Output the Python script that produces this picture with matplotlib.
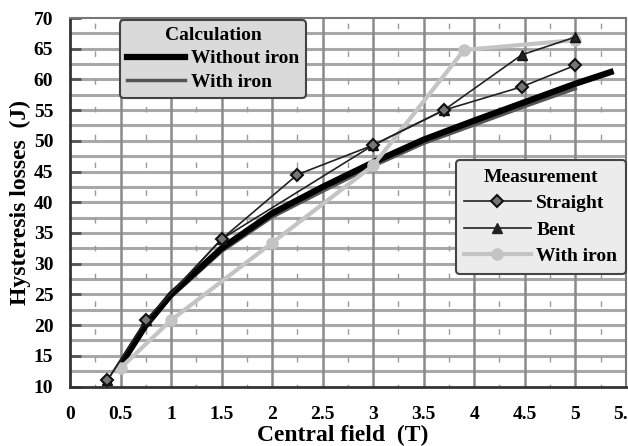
import matplotlib
matplotlib.use('Agg')
import numpy as np
import matplotlib.pyplot as plt
from matplotlib.lines import Line2D

# calculation curves
calc_x = [0.5, 0.75, 1.0, 1.5, 2.0, 2.5, 3.0, 3.5, 4.0, 4.5, 5.0, 5.35]
calc_no_iron = [13.5, 20.0, 25.0, 32.5, 38.2, 42.5, 46.5, 50.2, 53.3, 56.3, 59.3, 61.2]
calc_iron_x = [0.5, 0.75, 1.0, 1.5, 2.0, 2.5, 3.0, 3.5, 4.0, 4.5, 5.0]
calc_iron = [13.3, 19.6, 24.6, 32.0, 37.6, 41.8, 45.9, 49.6, 52.6, 55.6, 58.5]

# measurements
straight_x = [0.37, 0.75, 1.5, 2.25, 3.0, 3.7, 4.47, 5.0]
straight_y = [11.0, 20.8, 34.0, 44.5, 49.3, 55.0, 58.8, 62.3]
bent_x = [0.37, 0.75, 1.5, 3.0, 3.7, 4.47, 5.0]
bent_y = [11.0, 20.8, 34.0, 49.3, 55.0, 64.0, 66.9]
iron_x = [0.5, 1.0, 2.0, 3.0, 3.9, 5.0]
iron_y = [13.0, 20.8, 33.4, 46.0, 64.8, 66.4]

x_ticks = [0, 0.5, 1, 1.5, 2, 2.5, 3, 3.5, 4, 4.5, 5, 5.5]
x_labels = ['0', '0.5', '1', '1.5', '2', '2.5', '3', '3.5', '4', '4.5', '5', '5.5']
y_ticks = [10, 15, 20, 25, 30, 35, 40, 45, 50, 55, 60, 65, 70]

plt.rcParams['font.family'] = ['Liberation Serif', 'DejaVu Serif']
plt.rcParams['font.weight'] = 'bold'

fig = plt.figure(figsize=(6.28, 4.46), dpi=100)
ax = fig.add_axes([0.1115, 0.1334, 0.885, 0.8262])
ax.set_xlim(0, 5.5)
ax.set_ylim(10, 70)

# grid drawn by hand (horizontal every 2.5, vertical every 0.5, dashed minor every 0.25)
for v in np.arange(12.5, 70, 2.5):
    ax.axhline(v, color='#a8a8a8', lw=2.2, zorder=0.5)
for v in np.arange(0.5, 5.5, 0.5):
    ax.axvline(v, color='#8a8a8a', lw=1.8, zorder=0.6)
for v in np.arange(0.25, 5.5, 0.5):
    ax.axvline(v, color='#9a9a9a', lw=1.0, linestyle=(2, (4, 16)), zorder=0.6)

ax.set_xticks(x_ticks)
ax.set_xticklabels(x_labels, fontweight='bold')
ax.set_yticks(y_ticks)
ax.set_yticklabels([str(v) for v in y_ticks], fontweight='bold')
ax.tick_params(axis='y', direction='in', length=8, width=2, color='#555', labelsize=14, pad=12)
ax.tick_params(axis='x', length=0, labelsize=14, pad=14)

for s in ['left', 'bottom']:
    ax.spines[s].set_color('#333')
    ax.spines[s].set_linewidth(2)
for s in ['top', 'right']:
    ax.spines[s].set_color('#777')
    ax.spines[s].set_linewidth(1.5)

ax.plot(calc_iron_x, calc_iron, color='#555555', lw=2.5, zorder=3)
ax.plot(calc_x, calc_no_iron, color='black', lw=4.5, zorder=4)
ax.plot(iron_x, iron_y, color='#c4c4c4', lw=3, marker='o', ms=8, zorder=5)
ax.plot(bent_x, bent_y, color='#222', lw=1.2, marker='^', ms=7, mfc='#222', mec='#111', zorder=6)
ax.plot(straight_x, straight_y, color='#222', lw=1.2, marker='D', ms=6, mfc='#777', mec='#111', mew=1.5, zorder=6)

ax.set_xlabel('Central field  (T)', fontsize=17, fontweight='bold')
ax.xaxis.set_label_coords(0.49, -0.105)
ax.set_ylabel('Hysteresis losses  (J)', fontsize=17, fontweight='bold', labelpad=2)

calc_handles = [Line2D([], [], color='black', lw=4.5),
                Line2D([], [], color='#555555', lw=2.5)]
leg1 = fig.legend(calc_handles, ['Without iron', 'With iron'], title='Calculation',
                  loc='upper left', bbox_to_anchor=(0.191, 0.955), fontsize=14,
                  title_fontproperties={'weight': 'bold', 'size': 14},
                  handlelength=3.0, handletextpad=0.3, labelspacing=0.3,
                  borderpad=0.35, borderaxespad=0, fancybox=True, framealpha=1,
                  facecolor='#dadada', edgecolor='#444')
leg1.get_frame().set_linewidth(1.5)

meas_handles = [Line2D([], [], color='#222', lw=1.2, marker='D', ms=6, mfc='#777', mec='#111', mew=1.5),
                Line2D([], [], color='#222', lw=1.2, marker='^', ms=7, mfc='#222'),
                Line2D([], [], color='#c4c4c4', lw=3, marker='o', ms=8)]
leg2 = fig.legend(meas_handles, ['Straight', 'Bent', 'With iron'], title='Measurement',
                  loc='upper right', bbox_to_anchor=(0.997, 0.641), fontsize=14,
                  title_fontproperties={'weight': 'bold', 'size': 14},
                  handlelength=3.4, handletextpad=0.3, labelspacing=0.45,
                  borderpad=0.45, borderaxespad=0, fancybox=True, framealpha=1,
                  facecolor='#ececec', edgecolor='#444')
leg2.get_frame().set_linewidth(1.5)
for t in leg1.get_texts() + leg2.get_texts():
    t.set_fontweight('bold')

fig.savefig('out.png', dpi=100)
